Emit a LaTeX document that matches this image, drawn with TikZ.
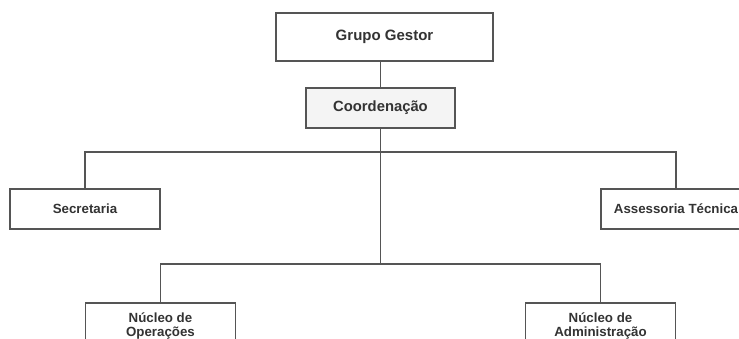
\documentclass[tikz,border=0pt]{standalone}
\usepackage{fontspec}
\setmainfont{Liberation Sans}
\usepackage{tikz}
\usetikzlibrary{positioning, calc}
\definecolor{linegray}{HTML}{555555}
\definecolor{textgray}{HTML}{333333}
\definecolor{boxfill}{HTML}{F4F4F4}

\begin{document}
\begin{tikzpicture}[x=1pt, y=-1pt,
		orgbox/.style={draw=linegray, line width=1.3pt, fill=white, text=textgray, font=\fontsize{13.3}{14}\selectfont\bfseries, minimum width=150pt, minimum height=40pt, inner sep=0pt, align=center},
		link/.style={draw=linegray, line width=1.3pt}]
		\useasboundingbox (0,0) rectangle (739,338);
		\clip (0,0) rectangle (739,338);
		% top of the chart
		\node[orgbox, minimum width=217pt, minimum height=48pt, font=\fontsize{15}{15}\selectfont\bfseries] (gestor) at (384.5,37) {Grupo Gestor};
		\node[orgbox, fill=boxfill, minimum width=149pt, font=\fontsize{14.8}{15}\selectfont\bfseries] (coord) at (380.5,108) {Coordena\c{c}\~ao};
		% side units
		\node[orgbox] (secret) at (85,209) {Secretaria};
		\node[orgbox] (assess) at (676,209) {Assessoria T\'ecnica};
		% lower units
		\node[orgbox, minimum height=46pt] (nucop) at (160.5,326) {N\'ucleo de\\Opera\c{c}\~oes};
		\node[orgbox, minimum height=46pt] (nucadm) at (600.5,326) {N\'ucleo de\\Administra\c{c}\~ao};
		\coordinate (bar1) at (380.5,152);
		\coordinate (bar2) at (380.5,264);
		\draw[link] (gestor.south -| coord.north) -- (coord.north);
		\draw[link] (coord.south) -- (bar2);
		\draw[link] (secret.north) |- (bar1) -| (assess.north);
		\draw[link] (nucop.north) |- (bar2) -| (nucadm.north);
\end{tikzpicture}
\end{document}
